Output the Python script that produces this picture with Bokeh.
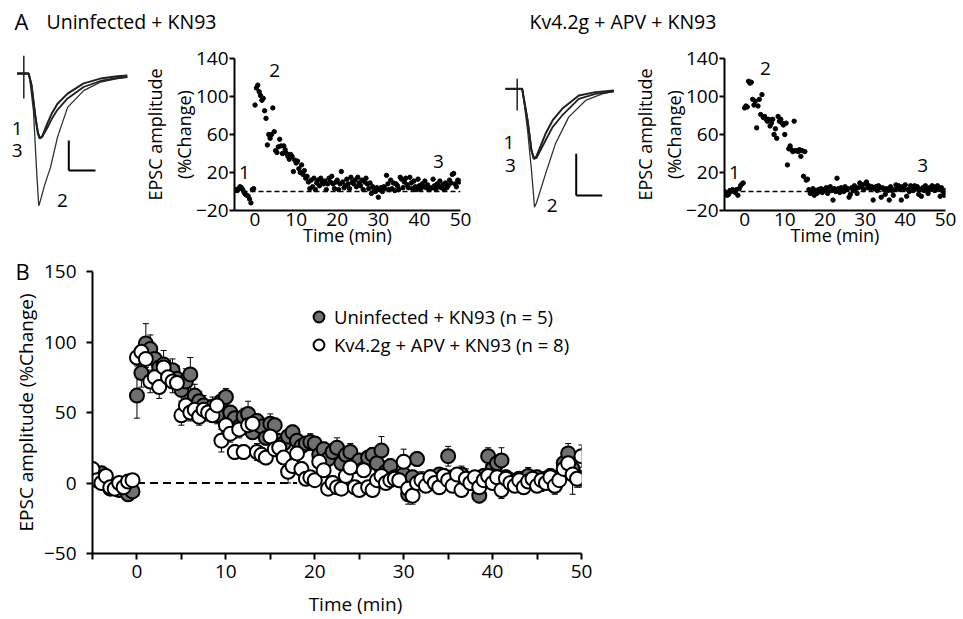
import math
from bokeh.plotting import figure
from bokeh.layouts import column, row
from bokeh.models import (Range1d, ColumnDataSource, Whisker, TeeHead, Legend,
                          LegendItem, FixedTicker)
from bokeh.embed import file_html
from bokeh.resources import INLINE
from bokeh.core.properties import value

FONT = "Open Sans"

# ---------------- data ----------------
# Panel A sampling grid (min): -5 .. 50, every 20 s
TIME_A = [round(-5 + i / 3, 3) for i in range(166)]
# Panel B sampling grid (min): -5 .. 50, every 30 s
TIME_B = [i / 2 for i in range(-10, 101)]

# Panel A, example cell: Uninfected + KN93 (% change)
TL_AMP = [1, 2, 1, 3, 5, 4, 2, -1, -3, -4, -5, -8, -12, 2, 3,
          91, 109, 112, 105, 101, 96, 98, 85, 77, 49, 60, 56, 60, 88, 63,
          43, 41, 47, 55, 48, 40, 48, 44, 40, 37, 34, 39, 37, 21, 33,
          30, 32, 24, 20, 28, 18, 22, 14, 16, 10, 3, 12, 5, 14, 2,
          9, 12, 6, 14, 10, 8, 11, 2, 8, 14, 10, 16, 8, 3, 10,
          12, 2, 8, 21, 10, 4, 6, 13, 8, 3, 15, 10, 8, 12, 5,
          15, 9, 6, 12, 2, 10, 14, 8, 3, 9, -2, 5, 2, 0, 4,
          -6, 2, 4, 0, 5, 3, 17, 8, 2, 12, 3, 9, 1, 8, 6,
          2, 15, 13, 4, 10, 14, 7, 4, 15, 9, 3, 11, 5, 2, 13,
          6, 3, 8, 5, 11, 4, 7, 2, 3, 4, 13, 6, 2, 8, 5,
          11, 4, 7, 2, 9, 4, 6, 12, 9, 18, 19, 8, 5, 12, 10,
          11]

# Panel A, example cell: Kv4.2g + APV + KN93 (% change)
TR_AMP = [0, -2, -4, -3, 1, 0, 2, 1, -1, 2, -4, 3, 6, 8, 9,
          88, 90, 89, 116, 114, 115, 97, 91, 95, 67, 90, 97, 81, 102, 78,
          79, 76, 74, 76, 69, 72, 76, 60, 66, 56, 79, 74, 76, 72, 70,
          60, 72, 28, 45, 48, 44, 42, 74, 43, 43, 42, 44, 37, 43, 16,
          42, 12, 13, 2, -2, 0, 3, -4, 1, -2, 2, 0, 3, -1, 2,
          1, 4, -2, 2, 5, 1, -9, 3, 0, 14, 3, -1, 4, 2, 0,
          5, 2, 3, -6, -3, 4, 1, 6, 3, -2, 4, 9, 5, 7, 2,
          8, 10, 4, 6, 3, 5, -9, 3, 5, 1, 6, 4, -6, 4, 2,
          -3, 3, 1, -9, 5, 1, -4, 2, 7, 3, 6, 2, -9, 5, 3,
          7, -5, 2, 0, 6, 4, 1, 6, 3, 5, -3, 2, -5, 4, 1,
          6, 3, -2, 4, 2, 6, 5, 1, 3, 6, 2, -5, 4, 0, -4,
          1]

# Panel B, group means and SEM (% change)
G_MEAN = [4, 3, 7, 2, -4, -3, -5, -2, -8, -6,
          62, 78, 99, 95, 88, 82, 84, 78, 80, 74,
          66, 72, 77, 62, 58, 55, 52, 54, 48, 58,
          61, 50, 46, 40, 47, 49, 36, 44, 40, 32,
          42, 41, 30, 28, 33, 36, 30, 26, 28, 29,
          28, 20, 24, 17, 22, 25, 14, 20, 22, 12,
          16, 10, 18, 20, 14, 23, 8, 12, 4, 2,
          6, -8, 4, 17, 2, 0, 4, 2, 6, 5,
          19, 4, 2, 6, 3, 0, 2, -9, 5, 19,
          10, 14, 16, 4, 2, 0, 3, 1, 5, 2,
          4, 0, 3, 5, -2, 4, 14, 21, 10, 4,
          3]
G_SEM = [4, 3, 4, 3, 3, 4, 3, 3, 4, 3,
         16, 10, 14, 10, 9, 8, 10, 9, 8, 9,
         8, 9, 12, 8, 7, 7, 6, 7, 6, 6,
         6, 5, 6, 5, 6, 9, 5, 5, 6, 5,
         7, 5, 5, 6, 5, 5, 6, 5, 5, 6,
         5, 6, 5, 5, 6, 7, 5, 5, 6, 5,
         5, 6, 5, 5, 6, 10, 5, 5, 6, 5,
         6, 7, 5, 5, 6, 5, 5, 6, 5, 5,
         7, 5, 5, 6, 5, 5, 6, 5, 5, 6,
         5, 5, 9, 5, 5, 6, 5, 5, 6, 5,
         5, 6, 5, 5, 6, 5, 5, 7, 6, 5,
         6]
W_MEAN = [10, 2, 0, 5, -3, -4, 0, -3, 1, 2,
          89, 93, 88, 72, 75, 68, 82, 75, 72, 71,
          48, 55, 50, 52, 47, 52, 50, 48, 55, 30,
          41, 35, 22, 38, 22, 41, 42, 22, 20, 18,
          33, 24, 25, 18, 8, 12, 21, 10, 3, 4,
          2, 15, 9, -4, 0, -3, -4, 5, 11, -3,
          -5, 9, -3, -5, 2, 5, 0, 2, 3, 2,
          15, -4, -9, 0, 2, -2, 4, 0, -3, 5,
          2, -2, 6, -5, 3, 0, 4, -3, 2, 5,
          0, 4, -5, 3, 0, -2, 2, -3, 1, 3,
          -2, 2, 0, 4, -2, 2, 10, 14, 6, 3,
          19]
W_SEM = [4, 3, 3, 3, 3, 3, 3, 3, 3, 3,
         6, 5, 6, 8, 7, 8, 7, 6, 8, 7,
         7, 6, 6, 6, 6, 6, 6, 5, 5, 8,
         6, 6, 5, 6, 5, 6, 6, 6, 5, 5,
         5, 5, 5, 4, 8, 5, 5, 5, 4, 4,
         4, 4, 4, 4, 5, 4, 4, 4, 4, 4,
         4, 4, 4, 4, 4, 4, 4, 4, 4, 4,
         9, 6, 6, 4, 4, 4, 4, 4, 4, 4,
         4, 4, 4, 4, 7, 4, 4, 4, 4, 4,
         4, 4, 6, 4, 4, 4, 4, 4, 4, 4,
         4, 4, 4, 4, 4, 4, 6, 10, 14, 6,
         8]

# Example EPSC traces (ms, pA); 1 = baseline, 2 = after induction, 3 = 45 min
TRL_T1 = [-2.5, 1.8, 2.9, 4.4, 5.3, 6.0, 6.8, 8.8, 10.5, 12.6, 16.4, 22.4, 28.7, 35.0, 38.8]
TRL_I1 = [0, 0, -20, -75, -100, -108, -105, -83, -66, -50, -33, -16, -8, -4, -3]
TRL_I3 = [1, 1, -18, -72, -98, -106, -106, -90, -75, -60, -41, -22, -12, -7, -5]
TRL_T2 = [-2.5, 2.0, 3.6, 4.9, 5.6, 6.25, 7.75, 10.0, 12.6, 16.4, 22.4, 28.7, 35.0, 38.8]
TRL_I2 = [0, 0, -61, -170, -220, -211, -186, -156, -106, -56, -28, -14, -8, -6]

TRR_T1 = [-4.5, 1.9, 4.0, 5.5, 6.4, 7.4, 10.9, 13.6, 17.3, 23.7, 30.1, 37.2]
TRR_I1 = [0, 0, -38, -74, -84, -81, -54, -38, -24, -8, -4, -2]
TRR_I3 = [0, 0, -38, -74, -84, -83, -62, -46, -32, -12, -6, -3]
TRR_T2 = [-4.5, 2.0, 4.0, 5.5, 6.3, 6.65, 7.4, 10.9, 14.7, 19.8, 26.3, 32.7, 37.2]
TRR_I2 = [0, 0, -50, -98, -128, -142, -137, -102, -66, -34, -14, -6, -3]

SCALE_MS = 10
SCALE_PA = 50

TITLE_L = "Uninfected + KN93"
TITLE_R = "Kv4.2g + APV + KN93"
LEG_G = "Uninfected + KN93 (n = 5)"
LEG_W = "Kv4.2g + APV + KN93 (n = 8)"
YLABEL_B = "EPSC amplitude (%Change)"
XLABEL_B = "Time (min)"


def clean(p):
    p.grid.visible = False
    p.outline_line_color = None
    p.background_fill_color = None
    p.border_fill_color = None


def style_axes(p, fs="19px", lfs="18px"):
    for ax in p.axis:
        ax.axis_line_width = 2
        ax.axis_line_color = "black"
        ax.major_tick_line_width = 2
        ax.major_tick_line_color = "black"
        ax.minor_tick_line_width = 2
        ax.minor_tick_line_color = "black"
        ax.major_tick_in = 0
        ax.minor_tick_in = 0
        ax.major_label_text_font = FONT
        ax.major_label_text_font_size = fs
        ax.major_label_text_color = "black"
        ax.axis_label_text_font = FONT
        ax.axis_label_text_font_size = lfs
        ax.axis_label_text_font_style = "normal"
        ax.axis_label_text_color = "black"


def blank(w, h, xr, yr):
    p = figure(width=w, height=h, x_range=Range1d(*xr), y_range=Range1d(*yr),
               x_axis_location=None, y_axis_location=None, min_border=0,
               toolbar_location=None, output_backend="svg", frame_align=False)
    clean(p)
    return p


# ---------------- title strip ----------------
tstrip = blank(963, 40, (0, 963), (40, 0))
tstrip.text(x=[14], y=[20.5], text=["A"], text_font=value(FONT), text_font_size="22px",
            text_baseline="middle", text_color="black")
tstrip.text(x=[46, 529], y=[20.5, 20.5], text=[TITLE_L, TITLE_R], text_font=value(FONT),
            text_font_size="19.5px", text_baseline="middle", text_color="black")


# ---------------- trace panels ----------------
def trace_fig(w, xr, yr, t1, i1, i3, t2, i2, art, bar_xy, lab_pos):
    p = blank(w, 210, xr, yr)
    p.line(t2, i2, line_color="#303030", line_width=1.3)
    p.line(t1, i3, line_color="#202020", line_width=1.8)
    p.line(t1, i1, line_color="#202020", line_width=2.0)
    p.segment(x0=[0], y0=[art[0]], x1=[0], y1=[art[1]], line_color="#202020", line_width=1.5)
    bx, by = bar_xy
    p.segment(x0=[bx, bx], y0=[by + SCALE_PA, by], x1=[bx, bx + SCALE_MS], y1=[by, by],
              line_color="black", line_width=2)
    p.text(x=[q[0] for q in lab_pos], y=[q[1] for q in lab_pos], text=["1", "3", "2"],
           text_font=value(FONT), text_font_size="19px", text_align="center",
           text_baseline="middle", text_color="black")
    return p


trace_l = trace_fig(140, (-8.73, 43.71), (-294.5, 55.5), TRL_T1, TRL_I1, TRL_I3, TRL_T2, TRL_I2,
                    (30, -41), (16.85, -161), [(-2.5, -91), (-2.5, -128), (14.5, -211)])
trace_r = trace_fig(140, (-10.27, 43.58), (-193.9, 57.9), TRR_T1, TRR_I1, TRR_I3, TRR_T2, TRR_I2,
                    (12, -26), (22.7, -128), [(-3.2, -64), (-2.6, -92), (13.5, -140)])


# ---------------- example scatter panels ----------------
def scatter_fig(w, mbl, mbr, amp, lab_pos):
    p = figure(width=w, height=210, x_range=Range1d(-5, 50), y_range=Range1d(-20, 140),
               min_border_left=mbl, min_border_right=mbr, min_border_top=18,
               min_border_bottom=40, toolbar_location=None, output_backend="svg",
               frame_align=False)
    clean(p)
    style_axes(p, "19px", "18px")
    p.xaxis.ticker = FixedTicker(ticks=[0, 10, 20, 30, 40, 50])
    p.yaxis.ticker = FixedTicker(ticks=[-20, 20, 60, 100, 140])
    p.xaxis.major_tick_out = 0
    p.xaxis.major_label_standoff = 2
    p.xaxis.axis_label = "Time (min)"
    p.xaxis.axis_label_standoff = -6
    p.yaxis.major_tick_out = 5
    p.yaxis.major_label_standoff = 1
    p.yaxis.axis_label = "EPSC amplitude\n(%Change)"
    p.yaxis.axis_label_standoff = -3
    p.segment(x0=[-5], y0=[0], x1=[50], y1=[0], line_color="black", line_width=1.5,
              line_dash="5 3")
    p.scatter(TIME_A, amp, marker="circle", size=4.4, fill_color="black", line_color="black")
    p.text(x=[q[0] for q in lab_pos], y=[q[1] for q in lab_pos], text=["1", "2", "3"],
           text_font=value(FONT), text_font_size="19px", text_align="center",
           text_baseline="middle", text_color="black")
    return p


scat_l = scatter_fig(350, 84, 30, TL_AMP, [(-2.6, 20), (4.8, 127), (44.6, 32)])
scat_r = scatter_fig(333, 79, 18, TR_AMP, [(-2.5, 20), (5.2, 129), (44.3, 27)])


# ---------------- panel B ----------------
# side strip with the panel letter and the rotated y-axis title
side = blank(40, 340, (0, 40), (340, 0))
side.text(x=[15], y=[20.5], text=["B"], text_font=value(FONT), text_font_size="22px",
          text_baseline="middle", text_color="black")
side.text(x=[25], y=[162], text=[YLABEL_B], text_font=value(FONT), text_font_size="19px",
          text_align="center", text_baseline="middle", angle=math.pi / 2,
          text_color="black")

pb = figure(width=560, height=340, x_range=Range1d(-5, 50), y_range=Range1d(-50, 150),
            min_border_left=52, min_border_right=19, min_border_top=21, min_border_bottom=37,
            toolbar_location=None, output_backend="svg", frame_align=False)
clean(pb)
style_axes(pb, "19px", "19px")
pb.xaxis.ticker = FixedTicker(ticks=[0, 10, 20, 30, 40, 50],
                              minor_ticks=[-5, 5, 15, 25, 35, 45])
pb.xaxis.major_tick_out = 6
pb.xaxis.minor_tick_out = 6
pb.xaxis.major_label_standoff = 5
pb.yaxis.ticker = FixedTicker(ticks=[-50, 0, 50, 100, 150])
pb.yaxis.major_tick_out = 6
pb.yaxis.major_label_standoff = 10

pb.segment(x0=[0], y0=[0], x1=[18], y1=[0], line_color="black", line_width=2, line_dash="8 5")

g_src = ColumnDataSource(dict(t=TIME_B, m=G_MEAN,
                              up=[m + s for m, s in zip(G_MEAN, G_SEM)],
                              lo=[m - s for m, s in zip(G_MEAN, G_SEM)]))
w_src = ColumnDataSource(dict(t=TIME_B, m=W_MEAN,
                              up=[m + s for m, s in zip(W_MEAN, W_SEM)],
                              lo=[m - s for m, s in zip(W_MEAN, W_SEM)]))
for src in (g_src, w_src):
    wk = Whisker(source=src, base="t", upper="up", lower="lo", dimension="height",
                 line_color="black", line_width=1,
                 upper_head=TeeHead(size=6, line_width=1, line_color="black"),
                 lower_head=TeeHead(size=6, line_width=1, line_color="black"))
    pb.add_layout(wk)

rg = pb.scatter("t", "m", source=g_src, marker="circle", size=14, fill_color="#707070",
                line_color="black", line_width=2)
rw = pb.scatter("t", "m", source=w_src, marker="circle", size=14, fill_color="white",
                line_color="black", line_width=2)

leg = Legend(items=[LegendItem(label=LEG_G, renderers=[rg]),
                    LegendItem(label=LEG_W, renderers=[rw])],
             location=(213, 195), glyph_width=27, glyph_height=27, label_standoff=2,
             spacing=1, padding=0, margin=0, background_fill_alpha=0,
             border_line_color=None, label_text_font=FONT, label_text_font_size="18.5px",
             label_text_color="black")
pb.add_layout(leg)

# bottom strip with the x-axis title of panel B
xstrip = blank(600, 29, (0, 600), (29, 0))
xstrip.text(x=[355], y=[13], text=[XLABEL_B], text_font=value(FONT), text_font_size="19px",
            text_align="center", text_baseline="middle", text_color="black")

layout = column(tstrip, row(trace_l, scat_l, trace_r, scat_r), row(side, pb), xstrip)

with open("out.html", "w") as f:
    f.write(file_html(layout, INLINE))
